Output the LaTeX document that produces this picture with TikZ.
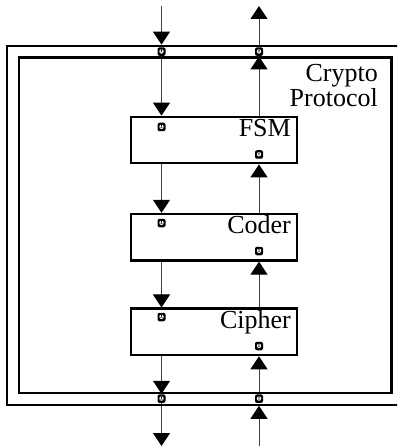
\documentclass[tikz,border=0pt]{standalone}
\usepackage{fontspec}
\setmainfont{Liberation Serif}
\usetikzlibrary{arrows.meta,backgrounds}
\begin{document}
\begin{tikzpicture}[x=1pt,y=-1pt,
  conn/.style={draw=black!75, line width=1pt},
  tip/.style={-{Triangle[width=17pt,length=13pt,color=black]}},
  frame/.style={draw=black, line width=2.2pt, rectangle, inner sep=0pt},
  blockbox/.style={draw=black, line width=2.2pt, rectangle, minimum width=165.7pt, minimum height=46.6pt, inner sep=0pt},
  port/.style={rectangle, rounded corners=2pt, fill=black, minimum width=8pt, minimum height=8.5pt, inner sep=0pt, outer sep=0pt,
    path picture={
      \fill[white] ([xshift=-2.1pt,yshift=-2pt]path picture bounding box.center) rectangle ([xshift=2.1pt,yshift=2.4pt]path picture bounding box.center);
      \fill[black] ([xshift=-0.6pt,yshift=-0.6pt]path picture bounding box.center) rectangle ([xshift=0.6pt,yshift=3pt]path picture bounding box.center);}},
  lbl/.style={font=\fontsize{26}{26}\selectfont, inner sep=0pt, anchor=base east}]
\clip (0,0) rectangle (397,446);
% frames
\node[frame, minimum width=396.2pt, minimum height=359pt] (outer) at (205.4,225.2) {};
\node[frame, minimum width=372.5pt, minimum height=335.2pt] (inner) at (205.25,225.1) {};
\node[lbl] (crypto) at (378,82) {Crypto};
\node[lbl] (protocol) at (378,107) {Protocol};
% blocks
\node[blockbox] (fsm) at (213.85,140) {};
\node[blockbox] (coder) at (213.85,237.2) {};
\node[blockbox] (cipher) at (213.85,331.85) {};
\node[lbl] (fsmlbl) at (291,136.7) {FSM};
\node[lbl] (coderlbl) at (291,233.5) {Coder};
\node[lbl] (cipherlbl) at (291,328.3) {Cipher};
% ports
\node[port] (pTL) at (161.5,51.6) {};
\node[port] (pTR) at (259,51.6) {};
\node[port] (pFL) at (161.5,127) {};
\node[port] (pFR) at (259,154.5) {};
\node[port] (pCL) at (161.5,223) {};
\node[port] (pCR) at (259,251) {};
\node[port] (pXL) at (161.5,317) {};
\node[port] (pXR) at (259,346) {};
\node[port] (pZL) at (161.5,398.7) {};
\node[port] (pZR) at (259,398.7) {};
% free ends
\coordinate (inL) at (161.5,6);
\coordinate (outR) at (259,6);
\coordinate (outL) at (161.5,446);
\coordinate (inR) at (259,446);
\begin{pgfonlayer}{background}
% down path
\draw[conn,tip] (inL) -- (pTL |- outer.north);
\draw[conn,tip] (pTL.south) -- (pTL |- fsm.north);
\draw[conn,tip] (fsm.south -| pFL) -- (coder.north -| pFL);
\draw[conn,tip] (coder.south -| pCL) -- (cipher.north -| pCL);
\draw[conn,tip] (cipher.south -| pXL) -- (pZL |- inner.south);
\draw[conn,tip] (pZL.south) -- (outL);
% up path
\draw[conn,tip] (inR) -- (pZR |- outer.south);
\draw[conn,tip] (pZR.north) -- (cipher.south -| pZR);
\draw[conn,tip] (cipher.north -| pXR) -- (coder.south -| pXR);
\draw[conn,tip] (coder.north -| pCR) -- (fsm.south -| pCR);
\draw[conn,tip] (fsm.north -| pFR) -- (inner.north -| pFR);
\draw[conn,tip] (pTR.north) -- (outR);
\end{pgfonlayer}
\end{tikzpicture}
\end{document}
